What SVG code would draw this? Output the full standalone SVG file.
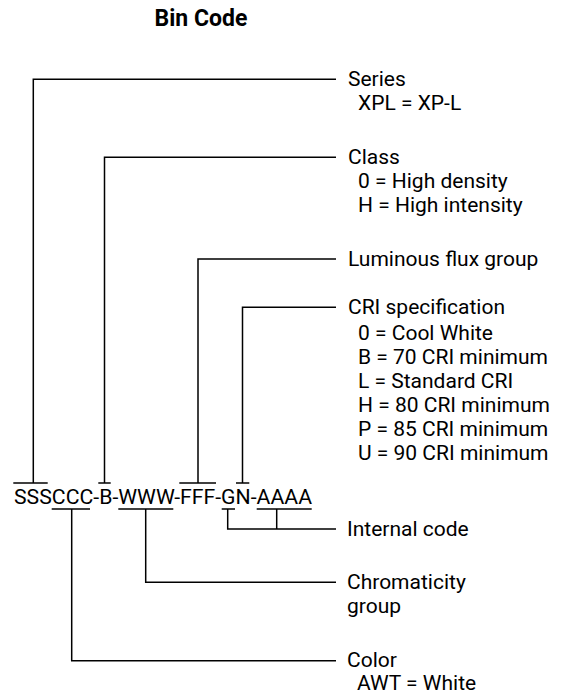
<svg xmlns="http://www.w3.org/2000/svg" width="565" height="694" viewBox="0 0 565 694">
<style>
text{font-family:Roboto,"Liberation Sans",sans-serif;font-size:21px;fill:#000}
.title{font-weight:bold;font-size:23px}
.c line,.c polyline{stroke:#000;stroke-width:1.5;fill:none}
</style>
<rect width="565" height="694" fill="#fff"/>
<text class="title" x="201" y="26" text-anchor="middle">Bin Code</text>
<g id="code"><text x="14" y="504" textLength="298" lengthAdjust="spacingAndGlyphs">SSSCCC-B-WWW-FFF-GN-AAAA</text></g>
<g class="c" id="connectors">
<polyline points="336,79.3 33.3,79.3 33.3,483"/><line x1="13.3" y1="483" x2="47.7" y2="483"/>
<polyline points="336,157.3 104.5,157.3 104.5,483"/><line x1="98.3" y1="483" x2="110.7" y2="483"/>
<polyline points="336,259 198,259 198,483"/><line x1="179.3" y1="483" x2="216" y2="483"/>
<polyline points="336,307.3 242.5,307.3 242.5,483"/><line x1="236" y1="483" x2="249.3" y2="483"/>
<line x1="51.7" y1="509" x2="90" y2="509"/><polyline points="71.7,509 71.7,660.7 336,660.7"/>
<line x1="118.3" y1="509" x2="173.3" y2="509"/><polyline points="145.7,509 145.7,582.3 336,582.3"/>
<line x1="221.7" y1="509" x2="235" y2="509"/><line x1="256.7" y1="509" x2="311.7" y2="509"/>
<polyline points="227.7,509 227.7,529 336,529"/><line x1="276.7" y1="509" x2="276.7" y2="529"/>
</g>
<g id="series"><text x="348" y="86">Series</text><text x="358" y="110">XPL = XP-L</text></g>
<g id="class"><text x="348" y="164">Class</text><text x="358" y="188">0 = High density</text><text x="358" y="212">H = High intensity</text></g>
<g id="flux"><text x="348" y="266">Luminous flux group</text></g>
<g id="cri"><text x="348" y="314">CRI specification</text><text x="358" y="340">0 = Cool White</text><text x="358" y="364">B = 70 CRI minimum</text><text x="358" y="388">L = Standard CRI</text><text x="358" y="412">H = 80 CRI minimum</text><text x="358" y="436">P = 85 CRI minimum</text><text x="358" y="460">U = 90 CRI minimum</text></g>
<g id="internal"><text x="347" y="536">Internal code</text></g>
<g id="chroma"><text x="347" y="589">Chromaticity</text><text x="347" y="613">group</text></g>
<g id="color"><text x="347" y="667">Color</text><text x="357" y="690">AWT = White</text></g>
</svg>
